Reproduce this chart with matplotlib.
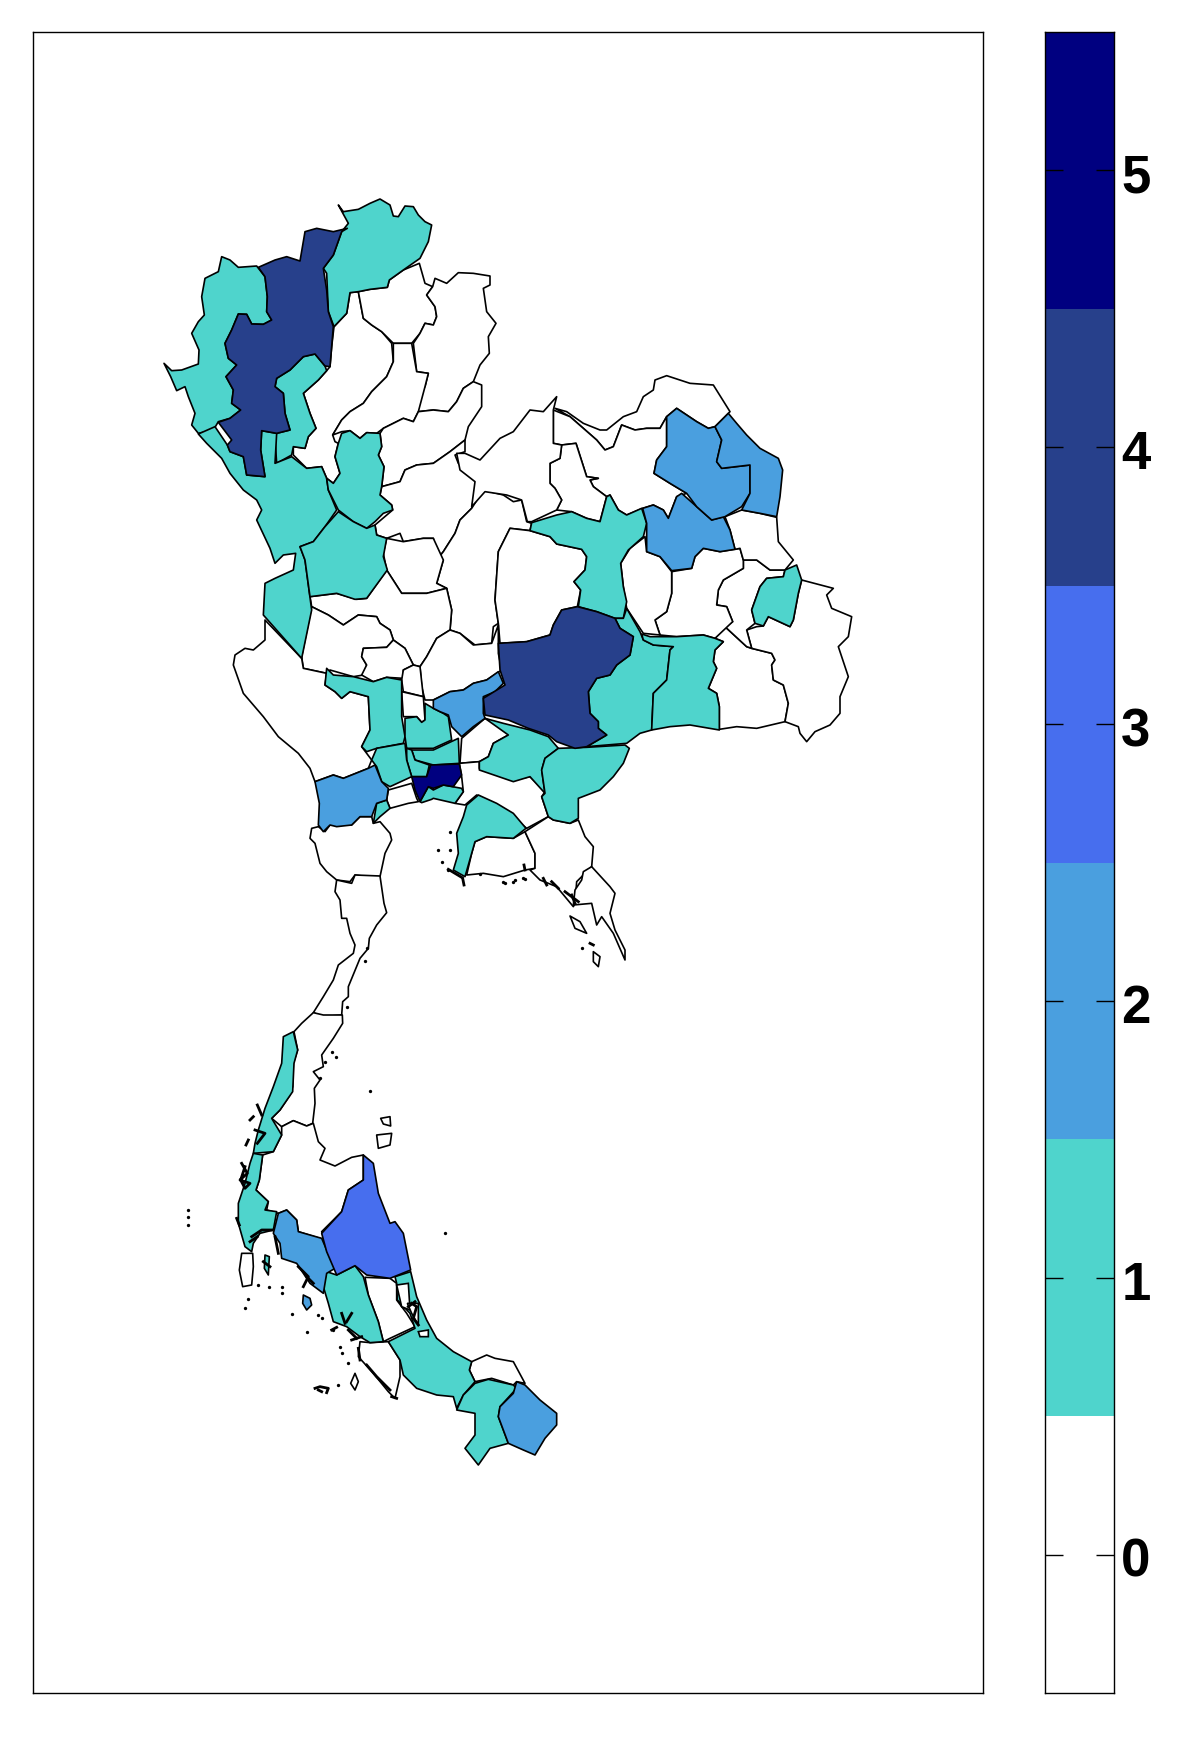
import numpy as np
import matplotlib
matplotlib.use('Agg')
import matplotlib.pyplot as plt
from matplotlib.colors import ListedColormap
from matplotlib.transforms import ScaledTranslation

plt.rcParams['font.family'] = ['Liberation Sans', 'DejaVu Sans']

# outlines are in map units, each group measured from its own origin at 1/3 scale
NORTH = (150, 180)
EAST = (450, 360)
CENTRAL = (220, 560)
SOUTH = (170, 1020)
GULF = (280, 850)

colors = ['#ffffff', '#4fd4cc', '#4a9fdf', '#476eee', '#27408b', '#000080']
levels = [0, 1, 2, 3, 4, 5]

# north
chiang_rai = [(565,75),(580,95),(625,88),(660,70),(690,57),(720,75),(730,108),(745,110),(765,78),(790,80),(805,105),(825,125),(845,135),(835,185),(810,235),(760,270),(718,300),(712,322),(660,328),(625,335),(600,338),(590,400),(552,440),(535,395),(530,280),(520,265),(550,225),(575,155),(595,130)]
mae_hong_son = [(215,230),(240,240),(265,262),(320,258),(345,290),(352,350),(350,395),(365,420),(340,433),(305,432),(290,403),(265,402),(245,450),(225,490),(235,535),(260,555),(228,590),(250,630),(245,670),(272,690),(240,715),(205,725),(195,742),(170,755),(145,760),(125,735),(135,700),(115,650),(105,620),(80,632),(62,590),(42,550),(65,572),(95,570),(145,552),(147,510),(125,460),(145,425),(163,405),(155,350),(165,295),(205,275)]
chiang_mai = [(325,262),(375,240),(410,230),(450,243),(465,155),(500,145),(550,155),(592,145),(575,155),(550,225),(520,265),(530,330),(535,395),(550,440),(545,500),(540,560),(525,558),(495,522),(460,530),(420,570),(380,595),(375,620),(400,640),(405,700),(420,750),(380,760),(335,752),(332,810),(345,890),(290,885),(280,830),(240,815),(232,795),(245,780),(205,727),(240,715),(272,690),(245,670),(250,630),(228,590),(260,555),(235,535),(225,490),(245,450),(265,402),(290,403),(305,432),(340,433),(365,420),(350,395),(352,350),(345,290)]
lamphun = [(495,522),(525,558),(530,572),(505,600),(460,640),(480,700),(498,745),(475,770),(465,805),(430,800),(425,825),(380,850),(375,775),(380,760),(420,750),(405,700),(400,640),(375,620),(380,595),(420,570),(460,530)]
tak = [(145,762),(195,740),(232,795),(240,815),(280,830),(290,885),(345,890),(332,810),(335,752),(380,760),(375,850),(425,830),(470,865),(515,860),(530,895),(535,930),(560,990),(525,1040),(490,1085),(450,1100),(465,1140),(485,1290),(455,1435),(340,1305),(345,1210),(375,1195),(430,1170),(437,1120),(400,1125),(375,1150),(360,1105),(320,1020),(335,990),(320,960),(280,930),(240,880),(215,835),(170,790)]
sukhothai = [(575,760),(600,752),(630,775),(650,758),(690,760),(695,800),(685,825),(702,860),(695,920),(690,945),(725,975),(728,990),(700,1000),(675,1025),(650,1045),(610,1025),(565,990),(535,930),(530,895),(550,910),(570,880),(555,830),(565,790)]
kamphaeng_phet = [(565,995),(610,1025),(650,1045),(675,1035),(680,1065),(710,1075),(700,1130),(712,1170),(650,1255),(615,1258),(560,1240),(480,1250),(465,1140),(450,1100),(490,1085),(525,1040)]
lampang = [(600,338),(625,335),(640,415),(665,435),(695,455),(725,490),(730,545),(710,590),(665,635),(640,670),(600,695),(575,720),(548,765),(555,785),(565,790),(555,830),(570,880),(550,910),(530,895),(515,860),(470,865),(430,825),(430,800),(465,805),(475,770),(498,745),(480,700),(460,640),(505,600),(530,572),(540,560),(545,500),(552,440),(590,400)]
phayao = [(625,335),(660,328),(712,322),(718,300),(760,270),(808,250),(825,310),(848,320),(830,345),(855,380),(860,410),(850,435),(825,430),(810,460),(785,490),(730,490),(695,455),(665,435),(640,415)]
nan = [(848,320),(855,295),(890,310),(925,278),(970,280),(1020,288),(1020,315),(1000,325),(1010,395),(1038,430),(1015,470),(1018,520),(990,555),(970,605),(940,625),(920,665),(895,695),(850,690),(805,695),(800,640),(825,620),(835,580),(800,575),(790,490),(810,460),(825,430),(850,435),(860,410),(855,380),(830,345)]
phrae = [(730,490),(785,490),(800,575),(835,580),(825,620),(805,695),(790,725),(760,715),(700,745),(680,760),(650,758),(630,775),(600,752),(575,755),(548,765),(575,720),(600,695),(640,670),(665,635),(710,590),(730,545)]
uttaradit = [(970,605),(995,615),(995,680),(955,740),(945,780),(900,815),(850,850),(800,855),(765,870),(750,905),(695,920),(702,860),(685,825),(695,800),(690,760),(700,745),(760,715),(790,725),(805,695),(850,690),(895,695),(920,665),(940,625)]
phitsanulok = [(695,920),(750,905),(765,870),(800,855),(850,850),(900,815),(945,780),(945,815),(915,825),(925,850),(970,890),(980,910),(965,985),(930,1020),(915,1060),(880,1115),(860,1140),(850,1075),(820,1075),(760,1085),(750,1060),(710,1075),(680,1065),(675,1035),(728,990),(725,975),(690,945)]
phetchabun = [(965,985),(1000,930),(1060,945),(1090,965),(1115,960),(1130,1025),(1145,1030),(1140,1052),(1080,1045),(1045,1115),(1035,1260),(1045,1330),(1030,1340),(1025,1390),(975,1395),(930,1360),(900,1350),(905,1290),(890,1225),(860,1210),(880,1140),(860,1140),(880,1115),(915,1060),(930,1020)]
north = [chiang_rai, mae_hong_son, chiang_mai, lamphun, tak, sukhothai, kamphaeng_phet, lampang, phayao, nan, phrae, uttaradit, phitsanulok, phetchabun]
north_values = [1, 1, 4, 1, 1, 1, 1, 0, 0, 0, 0, 0, 0, 0]

# north east
chaiyaphum = [(180,505),(240,512),(300,530),(320,552),(395,568),(410,590),(405,630),(372,665),(392,690),(382,740),(335,750),(310,795),(300,825),(230,845),(150,850),(145,790),(135,720),(145,575)]
khon_kaen = [(245,488),(320,465),(365,455),(410,475),(450,485),(470,410),(480,405),(505,450),(530,465),(575,445),(590,490),(580,530),(535,570),(512,610),(520,680),(530,725),(520,775),(495,775),(440,755),(385,740),(392,690),(372,665),(405,630),(410,590),(395,568),(320,552),(300,530),(240,512)]
nakhon_ratchasima = [(145,850),(230,845),(300,825),(310,795),(335,750),(382,740),(440,755),(495,775),(510,805),(550,830),(540,885),(500,915),(480,945),(440,955),(415,995),(420,1060),(445,1085),(445,1105),(470,1125),(410,1160),(375,1165),(320,1145),(295,1125),(235,1105),(175,1080),(105,1065),(100,1015),(165,975),(150,930)]
buriram = [(520,775),(530,745),(570,815),(580,840),(610,855),(670,860),(660,870),(650,960),(610,1000),(605,1110),(570,1120),(530,1150),(410,1160),(470,1125),(445,1105),(445,1085),(420,1060),(415,995),(440,955),(480,945),(500,915),(540,885),(550,830),(510,805),(495,775)]
surin = [(575,822),(600,830),(680,830),(760,825),(795,835),(820,845),(795,870),(790,905),(800,925),(775,985),(800,1000),(808,1040),(808,1110),(720,1095),(660,1100),(605,1110),(610,1000),(650,960),(660,870),(670,860),(610,855),(580,840)]
si_sa_ket = [(820,845),(795,835),(825,800),(890,860),(905,865),(965,880),(975,900),(965,915),(970,960),(1000,975),(1015,1030),(1005,1085),(920,1105),(860,1100),(808,1108),(808,1040),(800,1000),(775,985),(800,925),(790,905),(795,870)]
ubon = [(1055,660),(1150,685),(1130,705),(1145,745),(1205,770),(1195,830),(1165,860),(1195,950),(1170,1010),(1170,1060),(1140,1095),(1095,1115),(1070,1145),(1050,1120),(1045,1100),(1005,1085),(1015,1030),(1000,975),(970,960),(965,915),(975,900),(965,880),(905,865),(890,810),(920,800),(940,798),(955,770),(1020,800),(1030,780),(1045,700)]
amnat_charoen = [(1040,615),(1055,660),(1045,700),(1030,780),(1020,800),(955,770),(940,798),(915,790),(905,750),(930,680),(950,655),(1000,650),(1005,630)]
yasothon = [(880,600),(920,600),(960,630),(1005,630),(1000,650),(950,655),(930,680),(905,750),(915,790),(890,810),(905,865),(890,860),(825,800),(848,785),(830,740),(800,735),(805,690),(820,660),(880,625)]
roi_et = [(665,635),(725,625),(735,590),(760,565),(810,575),(870,565),(880,600),(880,625),(820,660),(805,690),(800,735),(830,740),(848,785),(795,835),(760,825),(680,830),(630,825),(615,780),(650,755),(665,700)]
maha_sarakham = [(540,565),(585,530),(590,575),(630,590),(665,635),(665,700),(650,755),(615,780),(630,825),(580,820),(530,745),(520,680),(512,610)]
kalasin = [(578,445),(610,435),(640,450),(655,475),(680,410),(695,400),(740,440),(785,480),(820,470),(840,510),(855,568),(810,575),(760,565),(735,590),(725,625),(665,632),(630,590),(590,575),(590,490)]
sakon_nakhon = [(650,170),(680,145),(710,165),(740,185),(775,205),(795,200),(815,240),(800,305),(815,325),(900,315),(900,400),(875,440),(825,470),(785,480),(740,440),(710,400),(660,370),(612,340),(620,300),(650,260)]
nakhon_phanom = [(795,200),(835,160),(860,190),(890,225),(930,265),(985,295),(998,330),(990,410),(980,470),(930,460),(875,450),(900,400),(900,315),(815,325),(800,305),(815,240)]
mukdahan = [(825,470),(875,450),(930,460),(980,472),(985,545),(1030,600),(1005,630),(960,630),(920,600),(880,600),(870,565),(855,568),(840,510)]
nong_khai = [(315,145),(350,155),(400,190),(450,210),(470,210),(520,170),(560,155),(580,110),(610,90),(615,60),(650,47),(720,70),(790,75),(840,155),(835,160),(795,200),(775,205),(740,185),(710,165),(680,145),(650,170),(630,205),(590,205),(555,210),(515,195),(490,260),(465,270),(440,240),(400,205),(360,170)]
udon_thani = [(310,150),(360,170),(400,205),(440,240),(465,270),(490,260),(515,195),(555,210),(590,205),(630,205),(650,170),(650,260),(620,300),(612,340),(660,370),(710,400),(680,410),(655,475),(640,450),(610,435),(578,445),(530,465),(505,450),(480,405),(470,410),(430,380),(420,360),(445,355),(410,350),(378,250),(335,255),(310,250)]
nong_bua_lamphu = [(335,255),(378,250),(410,350),(445,355),(420,360),(430,380),(470,410),(450,485),(410,475),(365,455),(320,450),(335,420),(315,385),(300,370),(300,310),(330,295)]
loei = [(20,280),(45,280),(90,300),(150,235),(190,215),(240,150),(280,155),(320,110),(310,150),(310,250),(335,255),(330,295),(300,310),(300,370),(315,385),(335,420),(320,450),(245,485),(232,485),(215,420),(170,405),(105,395),(65,440),(75,365),(30,330)]
east = [chaiyaphum, khon_kaen, nakhon_ratchasima, buriram, surin, si_sa_ket, ubon, amnat_charoen, yasothon, roi_et, maha_sarakham, kalasin, sakon_nakhon, nakhon_phanom, mukdahan, nong_khai, udon_thani, nong_bua_lamphu, loei]
east_values = [0, 1, 4, 1, 1, 0, 0, 1, 0, 0, 0, 2, 2, 2, 0, 0, 0, 0, 0]

# central and east coast
phichit = [(500,-65),(550,-55),(610,-65),(640,-65),(670,0),(650,70),(680,85),(620,100),(545,100),(500,30),(490,-20)]
nakhon_sawan = [(270,110),(350,100),(410,118),(440,115),(500,30),(545,100),(620,100),(680,85),(695,150),(690,210),(650,235),(620,290),(600,320),(580,315),(555,265),(520,240),(510,210),(480,190),(470,170),(415,165),(370,195),(325,165),(275,140)]
lopburi = [(600,320),(620,290),(650,235),(690,210),(720,220),(760,255),(815,250),(835,195),(835,280),(845,330),(800,360),(760,370),(730,390),(690,395),(640,420),(615,420),(605,380)]
uthai_thani = [(275,140),(325,165),(370,195),(415,165),(470,170),(480,190),(510,210),(520,240),(500,262),(430,265),(425,290),(440,315),(430,345),(400,350),(330,330),(320,340),(250,325),(245,290),(265,190)]
chai_nat = [(430,265),(500,262),(520,240),(555,265),(580,315),(550,330),(550,355),(500,352),(460,365),(425,345),(440,315),(425,290)]
sing_buri = [(550,330),(580,315),(600,320),(610,410),(550,395),(545,360)]
ang_thong = [(545,395),(610,410),(615,480),(605,487),(590,470),(550,470)]
suphan_buri = [(320,325),(340,345),(400,350),(460,365),(500,352),(545,360),(545,470),(555,530),(550,550),(470,565),(440,575),(425,560),(450,510),(445,410),(390,395),(365,415),(345,395),(315,375)]
kanchanaburi = [(135,180),(245,295),(250,325),(320,340),(315,375),(345,395),(365,415),(390,395),(445,410),(450,510),(425,560),(440,580),(455,600),(445,625),(370,655),(340,645),(285,665),(270,625),(235,580),(175,530),(130,470),(70,400),(40,315),(45,285),(75,265),(100,270),(135,240)]
ayutthaya = [(555,475),(590,470),(605,487),(615,480),(615,430),(640,445),(670,460),(685,470),(695,540),(640,565),(560,565),(555,530)]
saraburi = [(640,420),(690,395),(730,390),(760,370),(800,360),(835,335),(850,370),(825,395),(790,410),(790,460),(795,475),(760,500),(725,530),(695,500),(685,465),(660,455),(640,445)]
pathum_thani = [(575,570),(640,570),(715,535),(718,610),(640,615),(585,600)]
nonthaburi = [(560,565),(575,570),(585,600),(628,615),(620,650),(575,650),(560,600)]
nakhon_pathom = [(455,600),(470,565),(555,550),(560,600),(575,650),(510,680),(485,665),(470,620)]
bangkok = [(632,615),(718,612),(725,645),(700,680),(670,675),(640,685),(625,680),(600,725),(585,690),(575,650),(620,650)]
samut_prakan = [(600,725),(625,680),(640,690),(670,675),(725,685),(730,695),(705,730),(640,715),(635,718),(605,728)]
samut_sakhon = [(505,690),(575,670),(590,715),(595,725),(565,730),(510,745),(500,720)]
samut_songkhram = [(470,730),(500,720),(510,745),(480,770),(460,790)]
ratchaburi = [(285,665),(340,645),(370,655),(445,625),(465,615),(485,665),(505,685),(500,720),(470,730),(455,770),(420,770),(395,795),(350,800),(330,795),(310,815),(295,795),(298,730)]
phetchaburi = [(295,800),(315,815),(330,795),(395,795),(420,770),(455,770),(460,790),(480,785),(510,820),(515,840),(495,880),(480,950),(440,950),(405,945),(390,965),(350,960),(320,935),(300,910),(285,850),(270,835),(275,805)]
nakhon_nayok = [(725,535),(795,475),(860,505),(865,525),(820,550),(805,590),(778,605),(720,610)]
chachoengsao = [(718,610),(778,605),(778,625),(880,660),(930,650),(975,695),(965,710),(985,770),(920,805),(840,740),(770,705),(735,735),(705,730),(730,695),(725,650)]
prachin_buri = [(795,475),(850,490),(930,510),(985,530),(1015,565),(975,595),(965,630),(975,700),(930,650),(880,665),(778,630),(778,605),(805,590),(820,550),(865,525)]
sa_kaeo = [(975,595),(1015,565),(1100,562),(1215,555),(1228,565),(1210,610),(1180,650),(1140,690),(1075,715),(1075,775),(1050,790),(1000,780),(985,770),(965,710),(975,700),(965,630)]
chon_buri = [(740,735),(775,705),(830,730),(880,760),(918,805),(880,835),(800,830),(765,845),(755,880),(735,950),(700,930),(715,880),(710,820),(730,770)]
rayong = [(765,845),(800,830),(880,835),(915,815),(945,880),(945,925),(915,930),(850,950),(790,940),(740,945),(755,880)]
chanthaburi = [(915,815),(985,770),(1000,780),(1050,790),(1075,780),(1095,830),(1120,860),(1115,920),(1070,965),(1065,1030),(1060,1040),(1010,980),(960,960),(930,930),(945,925),(945,880)]
central = [phichit, nakhon_sawan, lopburi, uthai_thani, chai_nat, sing_buri, ang_thong, suphan_buri, kanchanaburi, ayutthaya, saraburi, pathum_thani, nonthaburi, nakhon_pathom, bangkok, samut_prakan, samut_sakhon, samut_songkhram, ratchaburi, phetchaburi, nakhon_nayok, chachoengsao, prachin_buri, sa_kaeo, chon_buri, rayong, chanthaburi]
central_values = [0, 0, 0, 0, 0, 0, 0, 1, 0, 1, 2, 1, 1, 1, 5, 1, 0, 1, 2, 0, 0, 0, 1, 1, 1, 0, 0]

# gulf side
prachuap = [(170,90),(215,100),(225,75),(300,78),(312,160),(320,188),(290,225),(268,265),(265,295),(240,325),(205,410),(205,440),(188,455),(185,495),(130,500),(100,488),(130,440),(160,390),(175,345),(220,310),(225,285),(210,250),(200,205),(185,205),(180,150),(165,125)]
trat = [(935,50),(990,110),(1005,130),(990,190),(1005,240),(1035,300),(1035,330),(1000,250),(965,200),(950,225),(935,160),(880,165),(885,120),(905,90),(910,65)]
ko_chang = [(870,198),(900,215),(920,250),(885,235)]
ko_kut = [(940,305),(960,320),(955,350),(940,335)]
gulf = [prachuap, trat, ko_chang, ko_kut]
gulf_values = [0, 0, 0, 0]

# south
chumphon = [(430,-22),(460,-15),(517,-15),(518,10),(490,55),(455,105),(460,140),(430,155),(450,180),(433,205),(435,250),(428,310),(410,318),(370,302),(335,320),(305,295),(330,270),(360,225),(368,200),(370,130),(383,90),(372,35),(395,10)]
ranong = [(340,50),(370,35),(383,90),(372,130),(368,215),(330,270),(305,295),(335,345),(310,395),(250,400),(255,370),(265,330),(285,265),(310,200),(335,130)]
surat_thani = [(335,320),(370,302),(410,318),(430,310),(445,365),(465,385),(450,420),(495,438),(545,412),(580,405),(580,480),(535,510),(515,575),(455,635),(465,660),(385,635),(380,600),(350,570),(325,580),(290,570),(295,545),(258,510),(268,480),(278,405),(310,395),(335,345)]
phang_nga = [(250,400),(278,405),(268,480),(258,510),(295,545),(285,570),(320,575),(310,630),(270,640),(250,670),(245,695),(225,680),(205,610),(205,550),(225,490),(240,430)]
phuket = [(215,700),(248,700),(250,740),(245,795),(218,800),(208,750)]
krabi = [(325,580),(350,570),(380,600),(385,635),(455,655),(470,690),(495,745),(470,760),(460,820),(420,790),(380,730),(335,715),(330,670),(310,640)]
krabi_isle = [(400,825),(420,835),(425,855),(410,870),(398,850)]
nakhon_si = [(580,405),(610,430),(625,520),(660,610),(675,605),(700,640),(722,750),(660,775),(590,765),(555,737),(500,765),(470,695),(455,640),(515,575),(535,510),(580,480)]
trang = [(470,755),(500,765),(555,737),(580,770),(595,825),(625,905),(640,965),(600,968),(570,950),(530,920),(490,905),(475,850),(460,800)]
phatthalung = [(585,772),(660,775),(680,790),(680,840),(710,880),(735,920),(660,955),(640,965),(625,905),(595,825)]
songkhla = [(675,770),(722,755),(740,830),(770,900),(800,955),(850,995),(905,1025),(898,1050),(915,1085),(880,1125),(860,1165),(850,1130),(800,1125),(740,1105),(700,1065),(690,1020),(655,965),(735,925),(720,880),(682,840),(680,790)]
satun = [(570,965),(600,968),(655,965),(690,1020),(690,1070),(675,1135),(655,1115),(610,1060),(565,1010)]
pattani = [(905,1025),(950,1005),(975,1015),(1030,1025),(1065,1090),(1040,1085),(1030,1095),(965,1075),(915,1085),(898,1050)]
yala = [(860,1170),(880,1125),(915,1090),(955,1078),(1030,1095),(1040,1105),(990,1160),(985,1190),(1015,1270),(960,1285),(925,1335),(885,1285),(915,1245),(915,1180)]
narathiwat = [(1040,1085),(1065,1095),(1110,1140),(1160,1180),(1160,1215),(1125,1255),(1095,1305),(1060,1290),(1015,1270),(985,1190),(990,1160),(1030,1120)]
lake_north = [(680,795),(715,790),(720,870),(695,860)]
lake_south = [(712,850),(745,850),(745,915),(725,880)]
lake_mouth = [(745,935),(775,930),(775,950),(750,950)]
ko_samui = [(620,345),(665,340),(660,375),(625,385)]
ko_phangan = [(632,295),(660,290),(662,318),(640,312)]
ko_lanta = [(555,1060),(565,1085),(555,1110),(542,1090)]
ko_yao = [(285,705),(298,710),(295,765),(283,745)]
south = [chumphon, ranong, surat_thani, phang_nga, phuket, krabi, krabi_isle, nakhon_si, trang, phatthalung, songkhla, satun, pattani, yala, narathiwat, lake_north, lake_south, lake_mouth, ko_samui, ko_phangan, ko_lanta, ko_yao]
south_values = [0, 1, 0, 1, 0, 2, 2, 3, 1, 0, 1, 0, 0, 1, 2, 0, 0, 0, 0, 0, 0, 1]

# tiny islands, drawn as dots
south_dots = [(55,570),(55,590),(55,615),(825,640),(600,212),(235,838),(225,865),(365,882),(410,935),(455,895),(445,885),(490,930),(510,980),(515,1000),(535,1030),(505,1095),(335,800),(335,820),(265,795),(297,800)]
central_dots = [(690,815),(655,870),(690,870),(665,905),(685,930),(850,965),(885,960),(910,955)]
gulf_dots = [(260,295),(255,333),(202,472),(157,605),(135,635),(168,620),(120,685),(600,72),(675,98),(700,95),(735,88),(905,295)]

# dense coast and island clusters
south_marks = [
    [(240,300),(250,290)], [(262,255),(275,285)], [(255,330),(285,340),(262,370)], [(235,360),(228,375)],
    [(215,430),(232,460),(210,480),(240,490),(225,505),(212,480),(225,440)],
    [(245,650),(275,630),(305,630)], [(240,665),(262,650)], [(280,725),(300,740)], [(315,650),(325,700)],
    [(385,740),(415,770),(400,800)], [(410,770),(430,790)], [(200,595),(208,615)],
    [(515,880),(525,910)], [(545,880),(530,905)], [(535,930),(560,955)], [(545,960),(575,950)], [(485,930),(500,922)],
    [(565,985),(570,1020)], [(590,1035),(620,1070),(660,1110)], [(665,1130),(680,1135)],
    [(435,1105),(450,1100),(475,1105),(470,1118)], [(445,1110),(455,1115)],
    [(725,850),(740,860),(730,895),(745,915)], [(715,860),(735,845)],
]
gulf_marks = [
    [(790,85),(800,105)], [(815,95),(835,115)], [(855,125),(895,155)], [(875,135),(885,160)], [(930,280),(940,285)],
    [(505,58),(545,82)], [(548,85),(552,105)], [(732,45),(735,60)],
]

groups = [(north, north_values, NORTH), (east, east_values, EAST), (central, central_values, CENTRAL), (gulf, gulf_values, GULF), (south, south_values, SOUTH)]
dot_groups = [(south_dots, SOUTH), (central_dots, CENTRAL), (gulf_dots, GULF)]
mark_groups = [(south_marks, SOUTH), (gulf_marks, GULF)]

def to_map(pts, origin):
    arr = np.array(pts, dtype=float)
    return arr[:, 0] / 3 + origin[0], arr[:, 1] / 3 + origin[1]

fig = plt.figure(figsize=(12, 17.45), dpi=100)
W, H = 1200.0, 1745.0

ax = fig.add_axes([32.5 / W, 1 - 1693 / H, (982.5 - 32.5) / W, (1693 - 32) / H])
ax.set_xlim(32.5, 982.5)
ax.set_ylim(1693, 32)
ax.set_xticks([])
ax.set_yticks([])
for s in ax.spines.values():
    s.set_linewidth(1.0)

# white provinces first so coloured borders stay on top, lakes last
for level in levels:
    for shapes, values, origin in groups:
        for shape, v in zip(shapes, values):
            if v == level:
                x, y = to_map(shape, origin)
                ax.fill(x, y, facecolor=colors[v], edgecolor='black', linewidth=1.2, joinstyle='round', zorder=2 + v)
for shape in [lake_north, lake_south, lake_mouth]:
    x, y = to_map(shape, SOUTH)
    ax.fill(x, y, facecolor='white', edgecolor='black', linewidth=1.2, zorder=9)
for marks, origin in mark_groups:
    for mark in marks:
        x, y = to_map(mark, origin)
        ax.plot(x, y, color='black', linewidth=2.0, zorder=10)
for dots, origin in dot_groups:
    x, y = to_map(dots, origin)
    ax.plot(x, y, 'o', color='black', markersize=2.4, markeredgewidth=0, zorder=10)

# colour key
cax = fig.add_axes([1045 / W, 1 - 1693 / H, (1113.5 - 1045) / W, (1693 - 32) / H])
edges = np.arange(-0.5, 6.0, 1.0)
cax.pcolormesh([0, 1], edges, np.array(levels).reshape(-1, 1), cmap=ListedColormap(colors), vmin=-0.5, vmax=5.5)
cax.set_xticks([])
cax.set_ylim(-0.5, 5.5)
cax.set_yticks(levels)
cax.yaxis.tick_right()
cax.tick_params(axis='y', left=True, right=True, direction='in', length=13, width=1.0, labelleft=False, labelright=True, pad=5.5)
nudge = ScaledTranslation(0, -2.5 / 100, fig.dpi_scale_trans)
for lab in cax.get_yticklabels():
    lab.set_fontsize(38)
    lab.set_fontweight('bold')
    lab.set_transform(lab.get_transform() + nudge)
for s in cax.spines.values():
    s.set_linewidth(1.0)

fig.savefig('out.png', dpi=100)
